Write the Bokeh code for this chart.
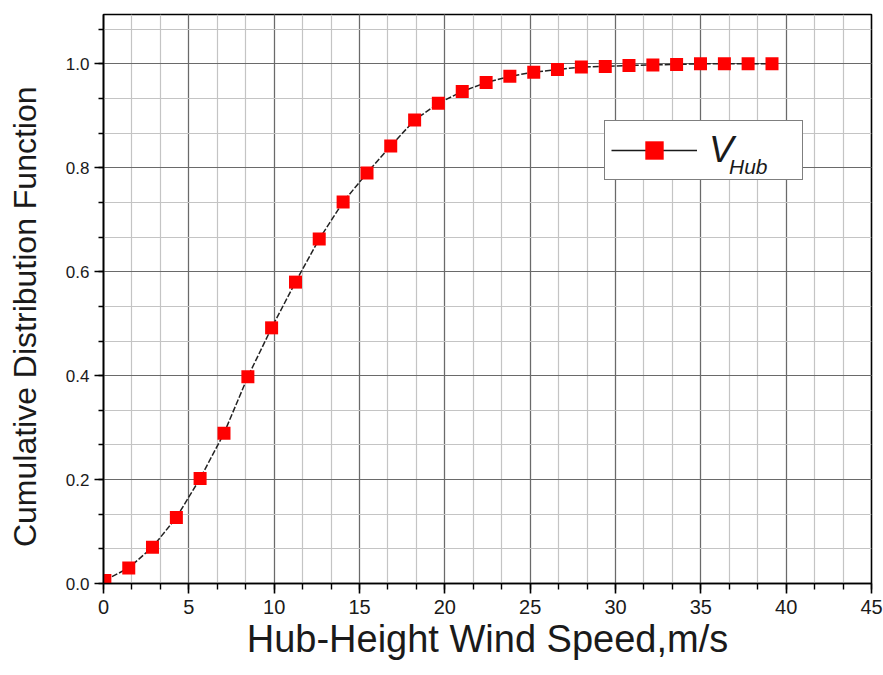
from bokeh.plotting import figure
from bokeh.models import (Range1d, SingleIntervalTicker, NumeralTickFormatter,
                          Legend, LegendItem, ColumnDataSource)
from bokeh.embed import file_html
from bokeh.resources import INLINE

# Data
wind_speed = [0.08, 1.48, 2.87, 4.27, 5.66, 7.06, 8.46, 9.85, 11.25, 12.64, 14.04, 15.44,
              16.83, 18.23, 19.62, 21.02, 22.42, 23.81, 25.21, 26.60, 28.00, 29.40, 30.79,
              32.19, 33.58, 34.98, 36.38, 37.77, 39.17]
cdf = [0.006, 0.030, 0.070, 0.127, 0.202, 0.289, 0.398, 0.492, 0.580, 0.663, 0.734, 0.790,
       0.842, 0.892, 0.924, 0.947, 0.964, 0.976, 0.984, 0.989, 0.994, 0.995, 0.997,
       0.998, 0.999, 1.000, 1.000, 1.000, 1.000]
series_name = "V"
series_sub = "Hub"
x_label = "Hub-Height Wind Speed,m/s"
y_label = "Cumulative Distribution Function"

FONT = "Liberation Sans"

p = figure(width=883, height=675, frame_width=768, frame_height=569,
           output_backend="svg", toolbar_location=None,
           x_range=Range1d(0, 45), y_range=Range1d(0, 1.095),
           min_border_left=103, min_border_right=12, min_border_top=14, min_border_bottom=92)

p.background_fill_color = "white"
p.border_fill_color = "white"
p.outline_line_color = "black"
p.outline_line_width = 1.6

xt = SingleIntervalTicker(interval=5, num_minor_ticks=3)
yt = SingleIntervalTicker(interval=0.2, num_minor_ticks=3)
p.xaxis.ticker = xt
p.yaxis.ticker = yt
p.yaxis.formatter = NumeralTickFormatter(format="0.0")

for ax in (p.xaxis[0], p.yaxis[0]):
    ax.axis_line_color = "black"
    ax.axis_line_width = 1.6
    ax.major_tick_line_color = "black"
    ax.major_tick_line_width = 1.6
    ax.minor_tick_line_color = "black"
    ax.minor_tick_line_width = 1.4
    ax.major_tick_in = 0
    ax.minor_tick_in = 0
    ax.major_label_text_font = FONT
    ax.major_label_text_color = "#1a1a1a"
    ax.axis_label_text_font = FONT
    ax.axis_label_text_font_style = "normal"
    ax.axis_label_text_color = "#1a1a1a"

p.xaxis.major_tick_out = 10
p.xaxis.minor_tick_out = 6
p.yaxis.major_tick_out = 9
p.yaxis.minor_tick_out = 5
p.xaxis.major_label_text_font_size = "20px"
p.yaxis.major_label_text_font_size = "17px"
p.xaxis.major_label_standoff = 6
p.yaxis.major_label_standoff = 5
p.xaxis.axis_label = x_label
# trailing no-break spaces shift the rotated title slightly downward, as in the reference
p.yaxis.axis_label = y_label + "\u00a0" * 4
p.xaxis.axis_label_text_font_size = "38px"
p.yaxis.axis_label_text_font_size = "32px"
p.xaxis.axis_label_standoff = 1
p.yaxis.axis_label_standoff = 20

# grids
p.xgrid.grid_line_color = "#6a6a6a"
p.ygrid.grid_line_color = "#6a6a6a"
p.xgrid.grid_line_width = 1.2
p.ygrid.grid_line_width = 1.2
p.xgrid.minor_grid_line_color = "#c4c4c4"
p.ygrid.minor_grid_line_color = "#c4c4c4"
p.xgrid.minor_grid_line_width = 1.2
p.ygrid.minor_grid_line_width = 1.2

src = ColumnDataSource(data=dict(x=wind_speed, y=cdf))
p.line("x", "y", source=src, line_color="#222222", line_width=1.5, line_dash="6 2")
sq = p.scatter("x", "y", source=src, marker="square", size=13, fill_color="#ff0000",
               line_color="#ff0000", line_width=0)

# legend sample: solid line (single-point renderers draw nothing on the plot)
leg_line = p.line(x=wind_speed[:1], y=cdf[:1], line_color="#1a1a1a", line_width=1.5)
dummy = p.line(x=wind_speed[:1], y=cdf[:1], line_alpha=0)

legend = Legend(items=[LegendItem(label=series_name, renderers=[leg_line, sq])],
                location=(501, 403), glyph_width=86, glyph_height=46, label_width=87,
                label_height=46, label_standoff=12, padding=6, margin=0, spacing=0,
                border_line_color="black", border_line_width=1.6,
                background_fill_color="white", background_fill_alpha=1.0,
                label_text_font=FONT, label_text_font_style="italic",
                label_text_font_size="37px", label_text_color="#1a1a1a")
p.add_layout(legend, "center")

# subscript "Hub" as a second, transparent legend layered on top
legend_sub = Legend(items=[LegendItem(label=series_sub, renderers=[dummy])],
                    location=(626, 404), glyph_width=0, glyph_height=22, label_width=44,
                    label_height=22, label_standoff=0, padding=0, margin=0, spacing=0,
                    border_line_alpha=0, background_fill_alpha=0,
                    label_text_font=FONT, label_text_font_style="italic",
                    label_text_font_size="21px", label_text_color="#1a1a1a")
p.add_layout(legend_sub, "center")

open("out.html", "w").write(file_html(p, INLINE))
